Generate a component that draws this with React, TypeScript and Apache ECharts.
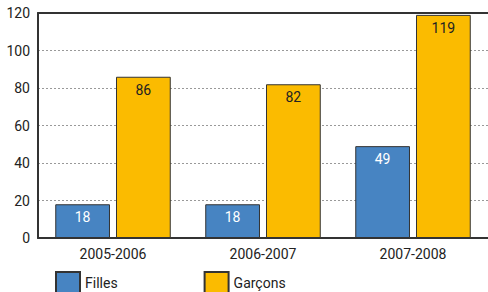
import React, { useEffect, useRef } from "react";
import * as echarts from "echarts";

const categories = ["2005-2006", "2006-2007", "2007-2008"];
const filles = [18, 18, 49];
const garcons = [86, 82, 119];
const yTicks = { min: 0, max: 120, interval: 20 };

const FONT = "Roboto, 'Liberation Sans', sans-serif";

export default function App() {
  const ref = useRef<HTMLDivElement>(null);
  useEffect(() => {
    const chart = echarts.init(ref.current!, null, { renderer: "svg" });
    chart.setOption({
      animation: false,
      grid: { left: 38, right: 0, top: 13, bottom: 54 },
      legend: {
        left: 55,
        top: 271,
        itemWidth: 24,
        itemHeight: 21,
        itemGap: 86,
        icon: "rect",
        padding: 0,
        textStyle: { fontFamily: FONT, fontSize: 14, color: "#222" },
        data: ["Filles", "Garçons"],
      },
      xAxis: [
        {
          type: "category",
          data: categories,
          axisLine: { lineStyle: { color: "#333", width: 2 } },
          axisTick: { inside: true, length: 5, lineStyle: { color: "#333" } },
          axisLabel: { fontFamily: FONT, fontSize: 14, color: "#222", margin: 9 },
        },
        {
          type: "category",
          position: "top",
          data: categories,
          axisLine: { lineStyle: { color: "#333", width: 2 } },
          axisTick: { show: false },
          axisLabel: { show: false },
        },
      ],
      yAxis: {
        type: "value",
        min: yTicks.min,
        max: yTicks.max,
        interval: yTicks.interval,
        axisLine: { show: true, lineStyle: { color: "#333", width: 2 } },
        axisTick: { show: false },
        axisLabel: { fontFamily: FONT, fontSize: 14, color: "#222", margin: 8 },
        splitLine: { lineStyle: { color: "#999", type: [2, 2], width: 1 } },
      },
      series: [
        {
          name: "Filles",
          type: "bar",
          data: filles,
          barGap: "11%",
          barCategoryGap: "23%",
          itemStyle: { color: "#4784c2", borderColor: "#333", borderWidth: 1 },
          label: {
            show: true,
            position: "insideTop",
            distance: 6,
            fontFamily: FONT,
            fontSize: 14,
            color: "#fff",
          },
        },
        {
          name: "Garçons",
          type: "bar",
          data: garcons,
          itemStyle: { color: "#fbbb00", borderColor: "#333", borderWidth: 1 },
          label: {
            show: true,
            position: "insideTop",
            distance: 6,
            fontFamily: FONT,
            fontSize: 14,
            color: "#222",
          },
        },
      ],
    });
    return () => chart.dispose();
  }, []);
  return <div ref={ref} style={{ width: 488, height: 292, position: "absolute", left: 0, top: 0 }} />;
}
